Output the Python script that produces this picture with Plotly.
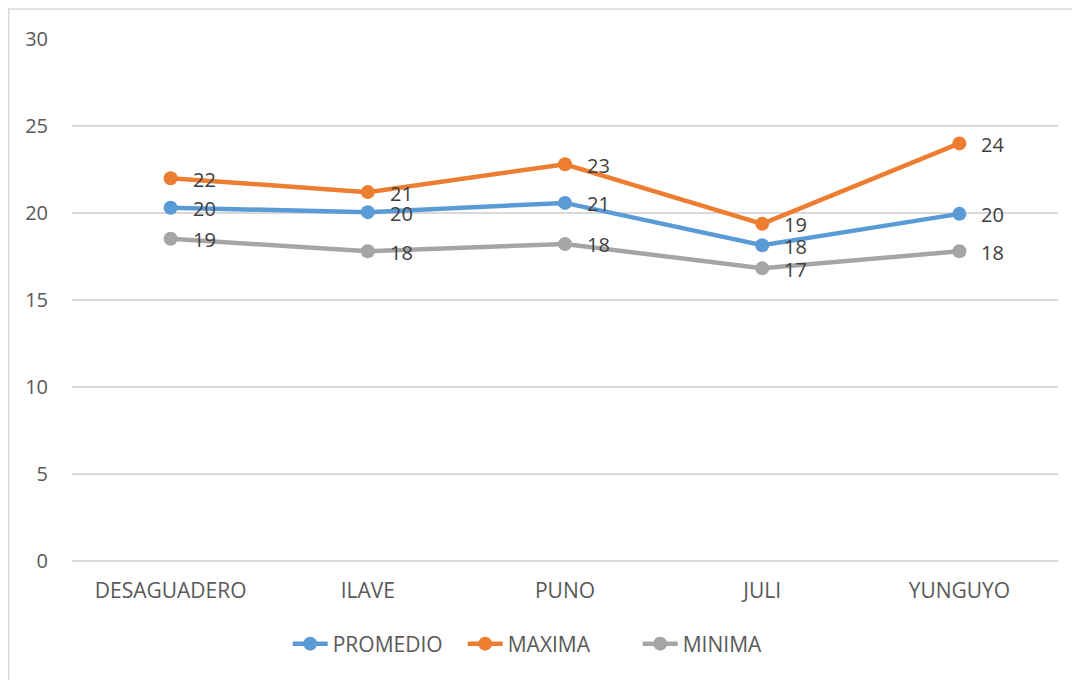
import plotly.graph_objects as go

categories = ["DESAGUADERO", "ILAVE", "PUNO", "JULI", "YUNGUYO"]
promedio = [20.3, 20.05, 20.58, 18.15, 19.95]
maxima = [22.0, 21.2, 22.8, 19.38, 24.0]
minima = [18.52, 17.8, 18.22, 16.82, 17.8]

series = [
    ("PROMEDIO", promedio, "#5B9BD5"),
    ("MAXIMA", maxima, "#ED7D31"),
    ("MINIMA", minima, "#A5A5A5"),
]

FONT = "Open Sans, Liberation Sans, sans-serif"
TXT = "#595959"

# plot area in figure pixels (page body adds an 8px offset)
L, T, PW, PH = 64, 31, 986, 522
W, H = 1080, 680

fig = go.Figure()
annotations = []
for name, vals, color in series:
    fig.add_trace(go.Scatter(
        x=categories, y=vals, name=name, mode="lines+markers",
        line=dict(color=color, width=4.5),
        marker=dict(color=color, size=14),
    ))
    for c, v in zip(categories, vals):
        annotations.append(dict(
            x=c, y=v, xref="x", yref="y", text=str(int(v + 0.5)),
            showarrow=False, xanchor="left", yanchor="middle",
            xshift=20, yshift=-1,
            font=dict(family=FONT, size=20, color="#404040"),
        ))

fig.update_layout(
    width=W, height=H,
    margin=dict(l=L, r=W - L - PW, t=T, b=H - T - PH),
    paper_bgcolor="white", plot_bgcolor="white",
    font=dict(family=FONT, size=20, color=TXT),
    showlegend=True,
    legend=dict(orientation="h", x=0.485, xanchor="center", y=-0.159, yanchor="middle",
                font=dict(family=FONT, size=21, color=TXT), itemwidth=35,
                entrywidth=125, entrywidthmode="pixels",
                bgcolor="rgba(0,0,0,0)"),
    annotations=annotations,
    shapes=[dict(type="rect", xref="paper", yref="paper",
                 x0=(0.75 - L) / PW, x1=1.2, y0=-0.5, y1=(T + PH - 1) / PH,
                 line=dict(color="#D9D9D9", width=1.5), layer="below")],
)
fig.update_xaxes(range=[-0.5, 4.5], showgrid=False, showline=False, ticks="",
                 automargin=False,
                 tickfont=dict(family=FONT, size=21, color=TXT), ticklabelstandoff=15)
fig.update_yaxes(range=[0, 30], dtick=5, showgrid=True, gridcolor="#D9D9D9", gridwidth=1.5,
                 zeroline=True, zerolinecolor="#D9D9D9", zerolinewidth=1.5,
                 showline=False, ticks="", ticklabelstandoff=23, automargin=False,
                 tickfont=dict(family=FONT, size=20, color=TXT))

fig.write_html("out.html")
